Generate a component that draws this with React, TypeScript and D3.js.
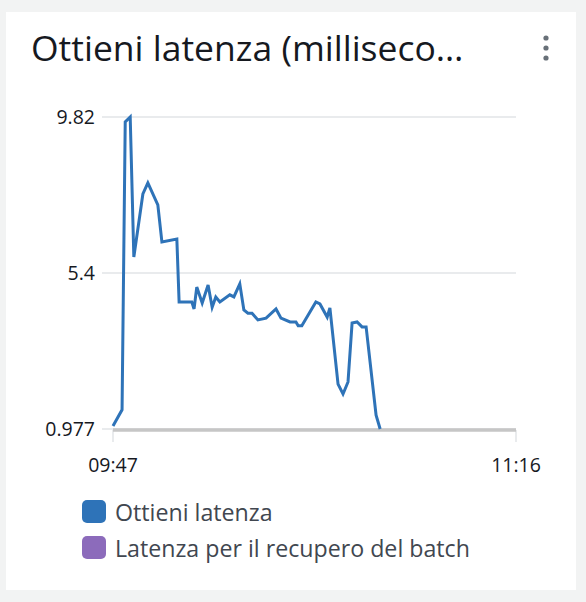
import React from "react";
import * as d3 from "d3";

const title = "Ottieni latenza (milliseco…";
const seriesNames = ["Ottieni latenza", "Latenza per il recupero del batch"];
const seriesColors = ["#2e73b8", "#8c6bbb"];
const yTicks = [0.977, 5.4, 9.82];
const xTickLabels = ["09:47", "11:16"];
const startTime = "2024-01-01T09:47:00";
const endTime = "2024-01-01T11:16:00";

// minutes after 09:47
const minutes = [
  0, 2, 2.7, 3.8, 4.6, 6.6, 7.7, 9.9, 10.8, 14.1, 14.6, 17.4, 17.9, 18.5, 19.7, 21,
  21.9, 22.7, 23.6, 25.8, 26.7, 28, 28.9, 29.8, 30.7, 32, 33.8, 36, 37.1, 39.1, 40.4,
  40.9, 41.7, 44.8, 45.7, 47.3, 47.9, 49.7, 50.8, 51.9, 52.8, 53.9, 55, 55.9, 58.1, 59,
];
const latency = [
  1.06, 1.52, 9.68, 9.82, 5.85, 7.64, 7.95, 7.33, 6.28, 6.36, 4.58, 4.58, 4.38, 5.0,
  4.55, 5.06, 4.43, 4.72, 4.58, 4.78, 4.72, 5.09, 4.35, 4.26, 4.26, 4.07, 4.12, 4.38,
  4.12, 4.01, 4.01, 3.9, 3.9, 4.58, 4.52, 4.15, 4.41, 2.25, 1.97, 2.31, 3.98, 4.01,
  3.87, 3.87, 1.37, 0.977,
];

const W = 586;
const H = 602;
const FONT = "'Open Sans', 'Noto Sans', sans-serif";

export default function App() {
  const t0 = new Date(startTime);
  const t1 = new Date(endTime);
  const x = d3.scaleTime().domain([t0, t1]).range([113, 516]);
  const y = d3.scaleLinear().domain([yTicks[0], yTicks[2]]).range([429, 117]);
  const data = minutes.map((m, i) => ({
    t: new Date(t0.getTime() + m * 60000),
    v: latency[i],
  }));
  const line = d3
    .line<{ t: Date; v: number }>()
    .x((d) => x(d.t))
    .y((d) => y(d.v));
  const fmt = d3.timeFormat("%H:%M");
  const xTicks = [t0, t1];

  return (
    <svg
      width={W}
      height={H}
      style={{ position: "absolute", left: 0, top: 0, fontFamily: FONT }}
    >
      <rect x={0} y={0} width={W} height={H} fill="#f2f3f3" />
      <rect x={6} y={12} width={570} height={578} fill="#ffffff" />
      <text x={31} y={61} fontSize={35.5} fill="#16191f">
        {title}
      </text>
      {[38, 48, 58].map((cy) => (
        <circle key={cy} cx={546} cy={cy} r={2.6} fill="#687078" />
      ))}
      {yTicks.map((v) => (
        <g key={v}>
          <line x1={102} x2={516} y1={y(v)} y2={y(v)} stroke="#e9ebed" strokeWidth={2} />
          <text
            x={95}
            y={y(v)}
            dy="0.35em"
            textAnchor="end"
            fontSize={19.5}
            fill="#16191f"
          >
            {v}
          </text>
        </g>
      ))}
      {xTicks.map((t, i) => (
        <g key={i}>
          <line x1={x(t)} x2={x(t)} y1={430} y2={442} stroke="#e9ebed" strokeWidth={2} />
          <text x={x(t)} y={472} textAnchor="middle" fontSize={19.5} fill="#16191f">
            {xTickLabels[i] ?? fmt(t)}
          </text>
        </g>
      ))}
      <line x1={x(t0)} x2={x(t1)} y1={430} y2={430} stroke="#c6c6c6" strokeWidth={3.5} />
      <path
        d={line(data) ?? ""}
        fill="none"
        stroke={seriesColors[0]}
        strokeWidth={3}
        strokeLinejoin="miter"
      />
      {seriesNames.map((name, i) => (
        <g key={name} transform={`translate(82, ${500 + i * 36})`}>
          <rect width={24} height={23} rx={5} fill={seriesColors[i]} />
          <text x={33} y={21} fontSize={23.2} fill="#414750">
            {name}
          </text>
        </g>
      ))}
    </svg>
  );
}
